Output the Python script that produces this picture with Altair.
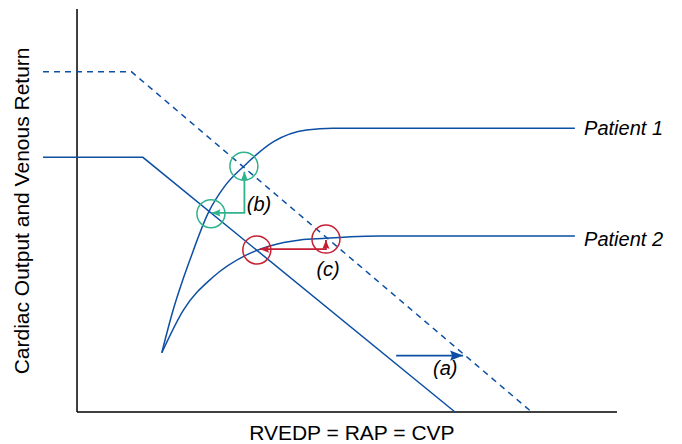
import altair as alt
import pandas as pd

# ---- data ----
vr_base_x = [-0.63, 1.22, 7.0]
vr_base_y = [6.32, 6.32, 0.0]
vr_up_x = [-0.63, 1.01, 8.42]
vr_up_y = [8.44, 8.44, 0.0]

p1_x = [1.57, 1.78, 1.96, 2.09, 2.43, 2.74, 3.09, 3.64, 4.25, 4.74, 9.22]
p1_y = [1.47, 2.53, 3.28, 3.77, 4.94, 5.61, 6.10, 6.71, 7.00, 7.04, 7.04]
p2_x = [1.57, 1.97, 2.52, 3.14, 3.57, 4.13, 4.61, 5.06, 5.61, 9.22]
p2_y = [1.47, 2.53, 3.35, 3.90, 4.12, 4.27, 4.31, 4.35, 4.37, 4.37]

green_cx = [3.09, 2.48]
green_cy = [6.10, 4.92]
red_cx = [3.33, 4.61]
red_cy = [4.02, 4.29]

green_arrow_x = [2.49, 3.10, 3.10]
green_arrow_y = [4.94, 4.94, 5.96]
red_arrow_x = [3.39, 4.61, 4.61]
red_arrow_y = [4.04, 4.04, 4.27]
blue_arrow_x = [5.91, 7.15]
blue_arrow_y = [1.40, 1.40]

label_text = ["Patient 1", "Patient 2"]
label_x = [9.39, 9.39]
label_y = [6.87, 4.13]
tag_text = ["(a)", "(b)", "(c)"]
tag_x = [6.82, 3.37, 4.65]
tag_y = [0.92, 4.99, 3.37]

x_title = "RVEDP = RAP = CVP"
y_title = "Cardiac Output and Venous Return"

BLUE = "#0c4fa3"
GREEN = "#2fb38e"
RED = "#c61f33"
FONT = "Liberation Sans"

xs = alt.Scale(domain=[-0.63, 10], nice=False, zero=False)
ys = alt.Scale(domain=[0, 10], nice=False, zero=False)


def X(f="x"):
    return alt.X(f"{f}:Q", scale=xs, axis=None)


def Y(f="y"):
    return alt.Y(f"{f}:Q", scale=ys, axis=None)


def line_df(xv, yv):
    return pd.DataFrame({"x": xv, "y": yv, "o": list(range(len(xv)))})


# axes drawn as rules
axes_df = pd.DataFrame({"x": [0, 0], "x2": [0, 10], "y": [0, 0], "y2": [10, 0]})
axes = alt.Chart(axes_df).mark_rule(color="black", strokeWidth=1.5).encode(
    x=X(), x2="x2:Q", y=Y(), y2="y2:Q"
)

vr_base = alt.Chart(line_df(vr_base_x, vr_base_y)).mark_line(
    color=BLUE, strokeWidth=1.5
).encode(x=X(), y=Y(), order="o:Q")
vr_up = alt.Chart(line_df(vr_up_x, vr_up_y)).mark_line(
    color=BLUE, strokeWidth=1.5, strokeDash=[6, 5]
).encode(x=X(), y=Y(), order="o:Q")

p1 = alt.Chart(line_df(p1_x, p1_y)).mark_line(
    color=BLUE, strokeWidth=1.5, interpolate="monotone"
).encode(x=X(), y=Y(), order="o:Q")
p2 = alt.Chart(line_df(p2_x, p2_y)).mark_line(
    color=BLUE, strokeWidth=1.5, interpolate="monotone"
).encode(x=X(), y=Y(), order="o:Q")

green_c = alt.Chart(pd.DataFrame({"x": green_cx, "y": green_cy})).mark_point(
    shape="circle", filled=False, size=784, strokeWidth=1.5, color=GREEN, opacity=1
).encode(x=X(), y=Y())
red_c = alt.Chart(pd.DataFrame({"x": red_cx, "y": red_cy})).mark_point(
    shape="circle", filled=False, size=784, strokeWidth=1.5, color=RED, opacity=1
).encode(x=X(), y=Y())

green_a = alt.Chart(line_df(green_arrow_x, green_arrow_y)).mark_line(
    color=GREEN, strokeWidth=1.8
).encode(x=X(), y=Y(), order="o:Q")
red_a = alt.Chart(line_df(red_arrow_x, red_arrow_y)).mark_line(
    color=RED, strokeWidth=1.8
).encode(x=X(), y=Y(), order="o:Q")
blue_a = alt.Chart(line_df(blue_arrow_x, blue_arrow_y)).mark_line(
    color=BLUE, strokeWidth=1.8
).encode(x=X(), y=Y(), order="o:Q")

HEAD_LEFT = "M0,0L1,-0.4L0.85,0L1,0.4Z"
HEAD_RIGHT = "M0,0L-1,-0.4L-0.85,0L-1,0.4Z"
HEAD_UP = "M0,0L-0.4,1L0,0.85L0.4,1Z"


def head(x, y, shape, color, size):
    return alt.Chart(pd.DataFrame({"x": [x], "y": [y]})).mark_point(
        shape=shape, filled=True, size=size, color=color, opacity=1, strokeWidth=0
    ).encode(x=X(), y=Y())


heads = [
    head(green_arrow_x[0], green_arrow_y[0], HEAD_LEFT, GREEN, 324),
    head(green_arrow_x[2], green_arrow_y[2], HEAD_UP, GREEN, 324),
    head(red_arrow_x[0], red_arrow_y[0], HEAD_LEFT, RED, 324),
    head(red_arrow_x[2], red_arrow_y[2], HEAD_UP, RED, 324),
    head(blue_arrow_x[1], blue_arrow_y[1], HEAD_RIGHT, BLUE, 676),
]

labels = alt.Chart(pd.DataFrame({"x": label_x, "y": label_y, "t": label_text})).mark_text(
    align="left", baseline="alphabetic", font=FONT, fontSize=20, fontStyle="italic", color="black"
).encode(x=X(), y=Y(), text="t:N")
tags = alt.Chart(pd.DataFrame({"x": tag_x, "y": tag_y, "t": tag_text})).mark_text(
    align="center", baseline="alphabetic", font=FONT, fontSize=20, fontStyle="italic", color="black"
).encode(x=X(), y=Y(), text="t:N")

xt = alt.Chart(pd.DataFrame({"x": [5.09], "y": [-0.695], "t": [x_title]})).mark_text(
    align="center", baseline="alphabetic", font=FONT, fontSize=21, color="black"
).encode(x=X(), y=Y(), text="t:N")
yt = alt.Chart(pd.DataFrame({"x": [-0.883], "y": [4.99], "t": [y_title]})).mark_text(
    align="center", baseline="alphabetic", font=FONT, fontSize=21, angle=270, color="black"
).encode(x=X(), y=Y(), text="t:N")

chart = alt.layer(
    axes, vr_up, vr_base, p1, p2, green_a, red_a, blue_a, *heads, green_c, red_c,
    labels, tags, xt, yt
).properties(
    width=574, height=403,
    autosize=alt.AutoSizeParams(type="none"),
    padding={"left": 35, "top": 1, "right": 57, "bottom": 33},
).configure_view(stroke=None)

chart.save("out.html", embed_options={"renderer": "svg", "actions": False})
